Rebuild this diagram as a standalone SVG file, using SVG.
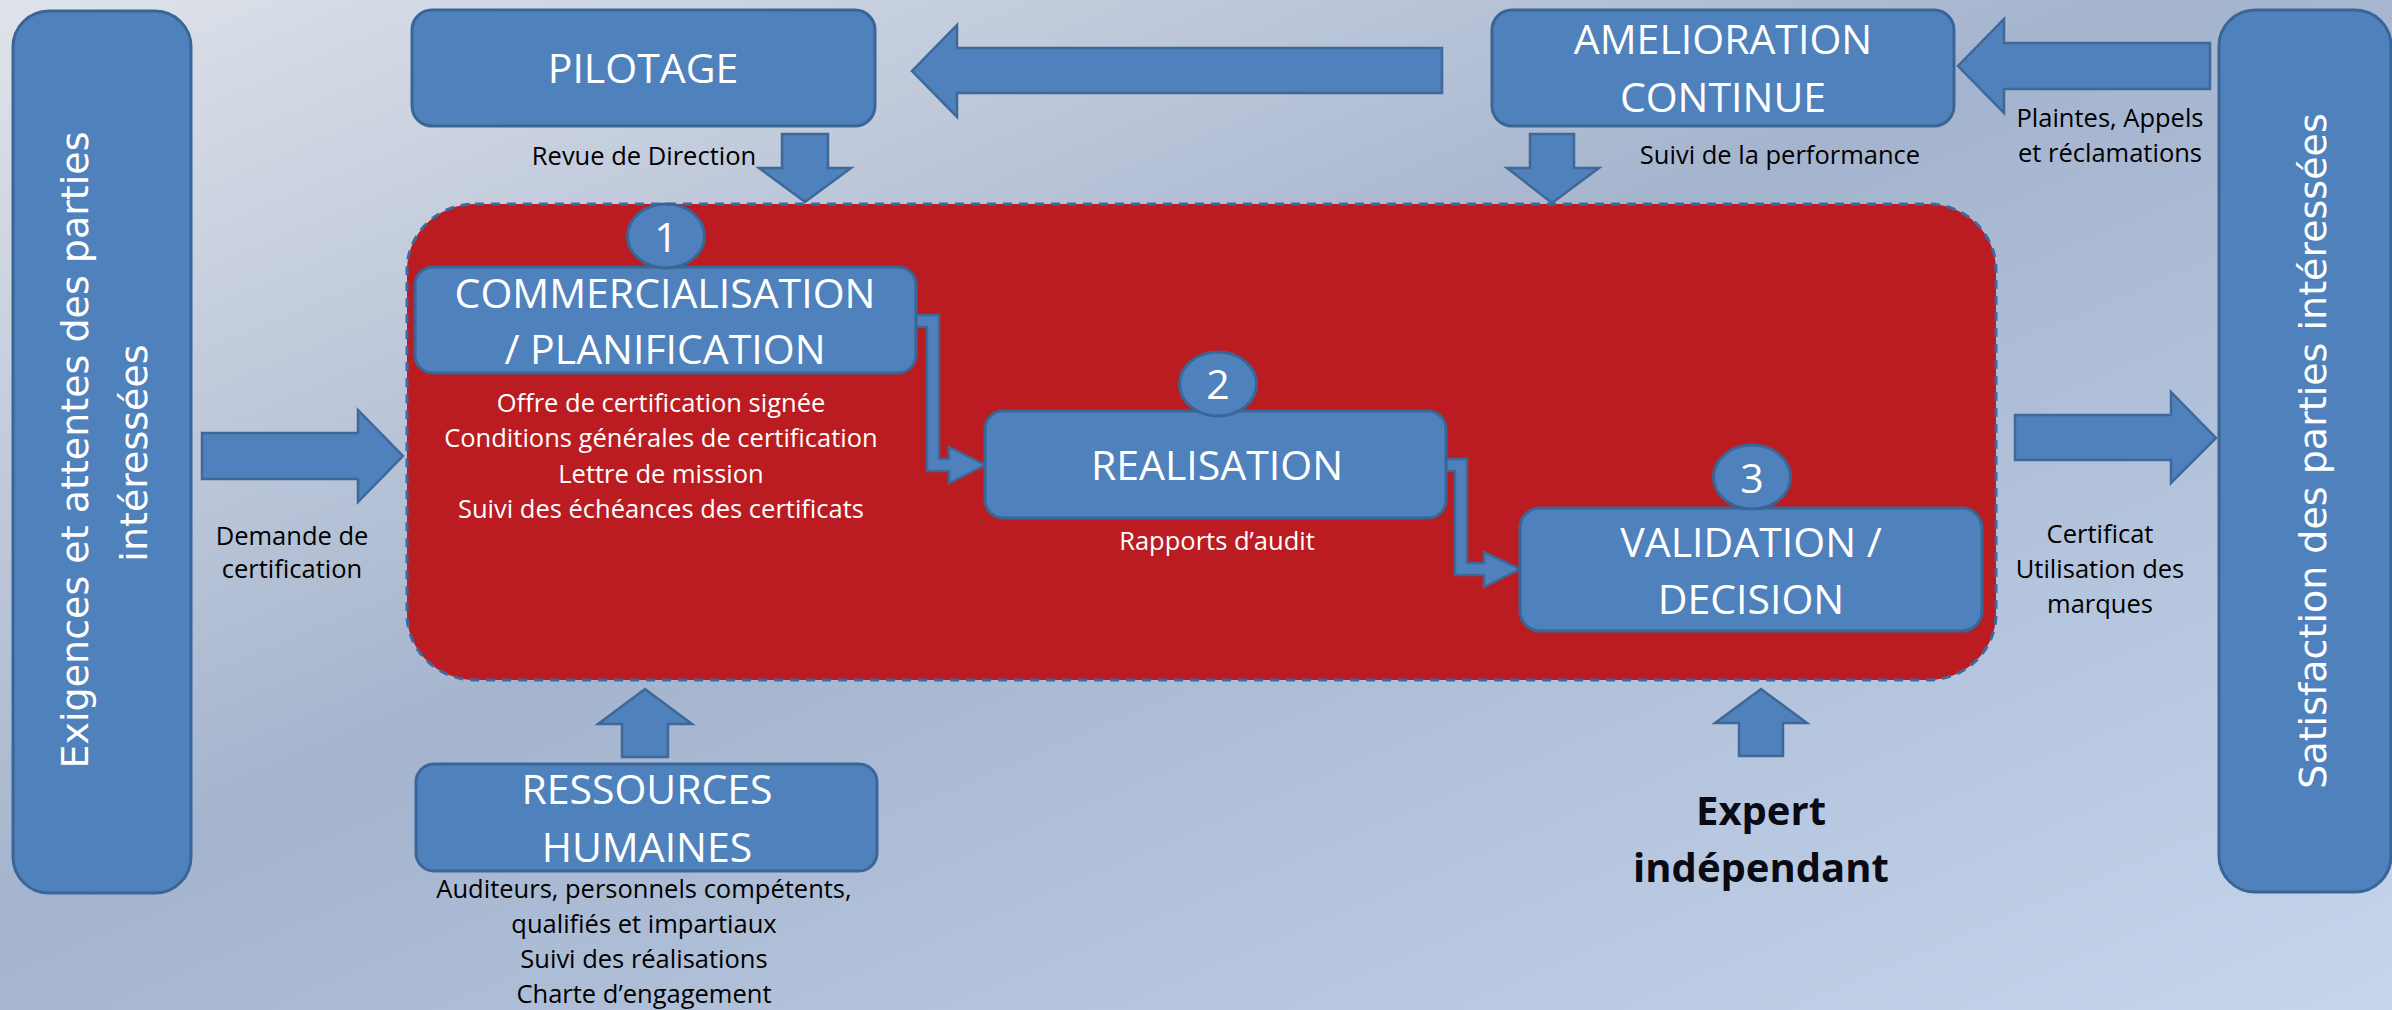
<svg xmlns="http://www.w3.org/2000/svg" width="2392" height="1010" viewBox="0 0 2392 1010">
<defs>
<linearGradient id="bg" x1="0" y1="0" x2="1" y2="1">
<stop offset="0" stop-color="#dfe3ea"/>
<stop offset="0.45" stop-color="#a5b4ce"/>
<stop offset="1" stop-color="#c4d5ec"/>
</linearGradient>
<style>
.box{fill:#4F81BD;stroke:#3A6697;stroke-width:3}
.arr{fill:#4F81BD;stroke:#3D6898;stroke-width:2.5;stroke-linejoin:miter}
.num{fill:#4F81BD;stroke:#3A6697;stroke-width:3}
.lbl{font-family:'Open Sans',sans-serif;font-size:41px;fill:#fff;text-anchor:middle}
.sw{font-family:'Open Sans',sans-serif;font-size:25.5px;fill:#fff;text-anchor:middle}
.sk{font-family:'Open Sans',sans-serif;font-size:25.5px;fill:#000;text-anchor:middle}
.side{font-family:'DejaVu Sans',sans-serif;font-size:38px;fill:#fff;text-anchor:middle}
.bold{font-family:'Open Sans',sans-serif;font-size:40px;font-weight:bold;fill:#0a0a14;text-anchor:middle}
</style>
</defs>
<rect x="0" y="0" width="2392" height="1010" fill="url(#bg)"/>

<g id="processus">
<rect x="407" y="204" width="1589" height="476" rx="68" ry="66" fill="#BA1C21" stroke="#3D6A9E" stroke-width="3" stroke-dasharray="9 7"/>
</g>

<g id="exigences">
<rect class="box" x="13" y="11" width="178" height="882" rx="36"/>
<text class="side" transform="translate(88 450) rotate(-90)">Exigences et attentes des parties</text>
<text class="side" transform="translate(147 453) rotate(-90)">intéressées</text>
</g>

<g id="satisfaction">
<rect class="box" x="2219" y="10" width="172" height="882" rx="36"/>
<text class="side" transform="translate(2326 451) rotate(-90)">Satisfaction des parties intéressées</text>
</g>

<g id="pilotage">
<rect class="box" x="412" y="10" width="463" height="116" rx="20"/>
<text class="lbl" x="643" y="83">PILOTAGE</text>
</g>

<g id="amelioration">
<rect class="box" x="1492" y="10" width="462" height="116" rx="20"/>
<text class="lbl" x="1723" y="54">AMELIORATION</text>
<text class="lbl" x="1723" y="112">CONTINUE</text>
</g>

<g id="connecteurs">
<path class="arr" d="M1442,48 L957,48 L957,25 L912,71 L957,117 L957,93 L1442,93 Z"/>
<path class="arr" d="M2210,43 L2004,43 L2004,19 L1958,66 L2004,113 L2004,89 L2210,89 Z"/>
<path class="arr" d="M782,134 L828,134 L828,168 L851,168 L805,202 L759,168 L782,168 Z"/>
<path class="arr" d="M1530,134 L1574,134 L1574,168 L1599,168 L1552,203 L1507,168 L1530,168 Z"/>
<path class="arr" d="M202,433 L358,433 L358,410 L403,456 L358,502 L358,479 L202,479 Z"/>
<path class="arr" d="M2015,415 L2171,415 L2171,392 L2216,438 L2171,483 L2171,460 L2015,460 Z"/>
<path class="arr" d="M622,757 L668,757 L668,724 L692,724 L645,689 L598,724 L622,724 Z"/>
<path class="arr" d="M1739,756 L1783,756 L1783,723 L1807,723 L1761,689 L1715,723 L1739,723 Z"/>
<path class="arr" d="M916,315 L939,315 L939,459 L949,459 L949,447 L985,465 L949,483 L949,471 L927,471 L927,327 L916,327 Z" stroke-width="2"/>
<path class="arr" d="M1446,459 L1467,459 L1467,563 L1484,563 L1484,552 L1520,569 L1484,587 L1484,575 L1455,575 L1455,471 L1446,471 Z" stroke-width="2"/>
</g>

<g id="commercialisation">
<rect class="box" x="415" y="267" width="501" height="106" rx="18"/>
<ellipse class="num" cx="666" cy="236" rx="38.5" ry="32"/>
<text class="lbl" x="666" y="252">1</text>
<text class="lbl" x="665" y="308">COMMERCIALISATION</text>
<text class="lbl" x="665" y="364">/ PLANIFICATION</text>
<text class="sw" x="661" y="412">Offre de certification signée</text>
<text class="sw" x="661" y="447">Conditions générales de certification</text>
<text class="sw" x="661" y="483">Lettre de mission</text>
<text class="sw" x="661" y="518">Suivi des échéances des certificats</text>
</g>

<g id="realisation">
<rect class="box" x="985" y="411" width="461" height="107" rx="18"/>
<ellipse class="num" cx="1218" cy="384" rx="38.5" ry="32"/>
<text class="lbl" x="1218" y="399">2</text>
<text class="lbl" x="1217" y="480">REALISATION</text>
<text class="sw" x="1217" y="550">Rapports d’audit</text>
</g>

<g id="validation">
<rect class="box" x="1520" y="508" width="462" height="123" rx="20"/>
<ellipse class="num" cx="1752" cy="477" rx="38.5" ry="32"/>
<text class="lbl" x="1752" y="493">3</text>
<text class="lbl" x="1751" y="557">VALIDATION /</text>
<text class="lbl" x="1751" y="614">DECISION</text>
</g>

<g id="ressources">
<rect class="box" x="416" y="764" width="461" height="107" rx="18"/>
<text class="lbl" x="647" y="804">RESSOURCES</text>
<text class="lbl" x="647" y="862">HUMAINES</text>
<text class="sk" x="644" y="898">Auditeurs, personnels compétents,</text>
<text class="sk" x="644" y="933">qualifiés et impartiaux</text>
<text class="sk" x="644" y="968">Suivi des réalisations</text>
<text class="sk" x="644" y="1003">Charte d’engagement</text>
</g>

<g id="expert">
<text class="bold" x="1761" y="825">Expert</text>
<text class="bold" x="1761" y="882">indépendant</text>
</g>

<g id="etiquettes">
<text class="sk" x="644" y="165">Revue de Direction</text>
<text class="sk" x="1780" y="164">Suivi de la performance</text>
<text class="sk" x="2110" y="127">Plaintes, Appels</text>
<text class="sk" x="2110" y="162">et réclamations</text>
<text class="sk" x="292" y="545">Demande de</text>
<text class="sk" x="292" y="578">certification</text>
<text class="sk" x="2100" y="543">Certificat</text>
<text class="sk" x="2100" y="578">Utilisation des</text>
<text class="sk" x="2100" y="613">marques</text>
</g>
</svg>
